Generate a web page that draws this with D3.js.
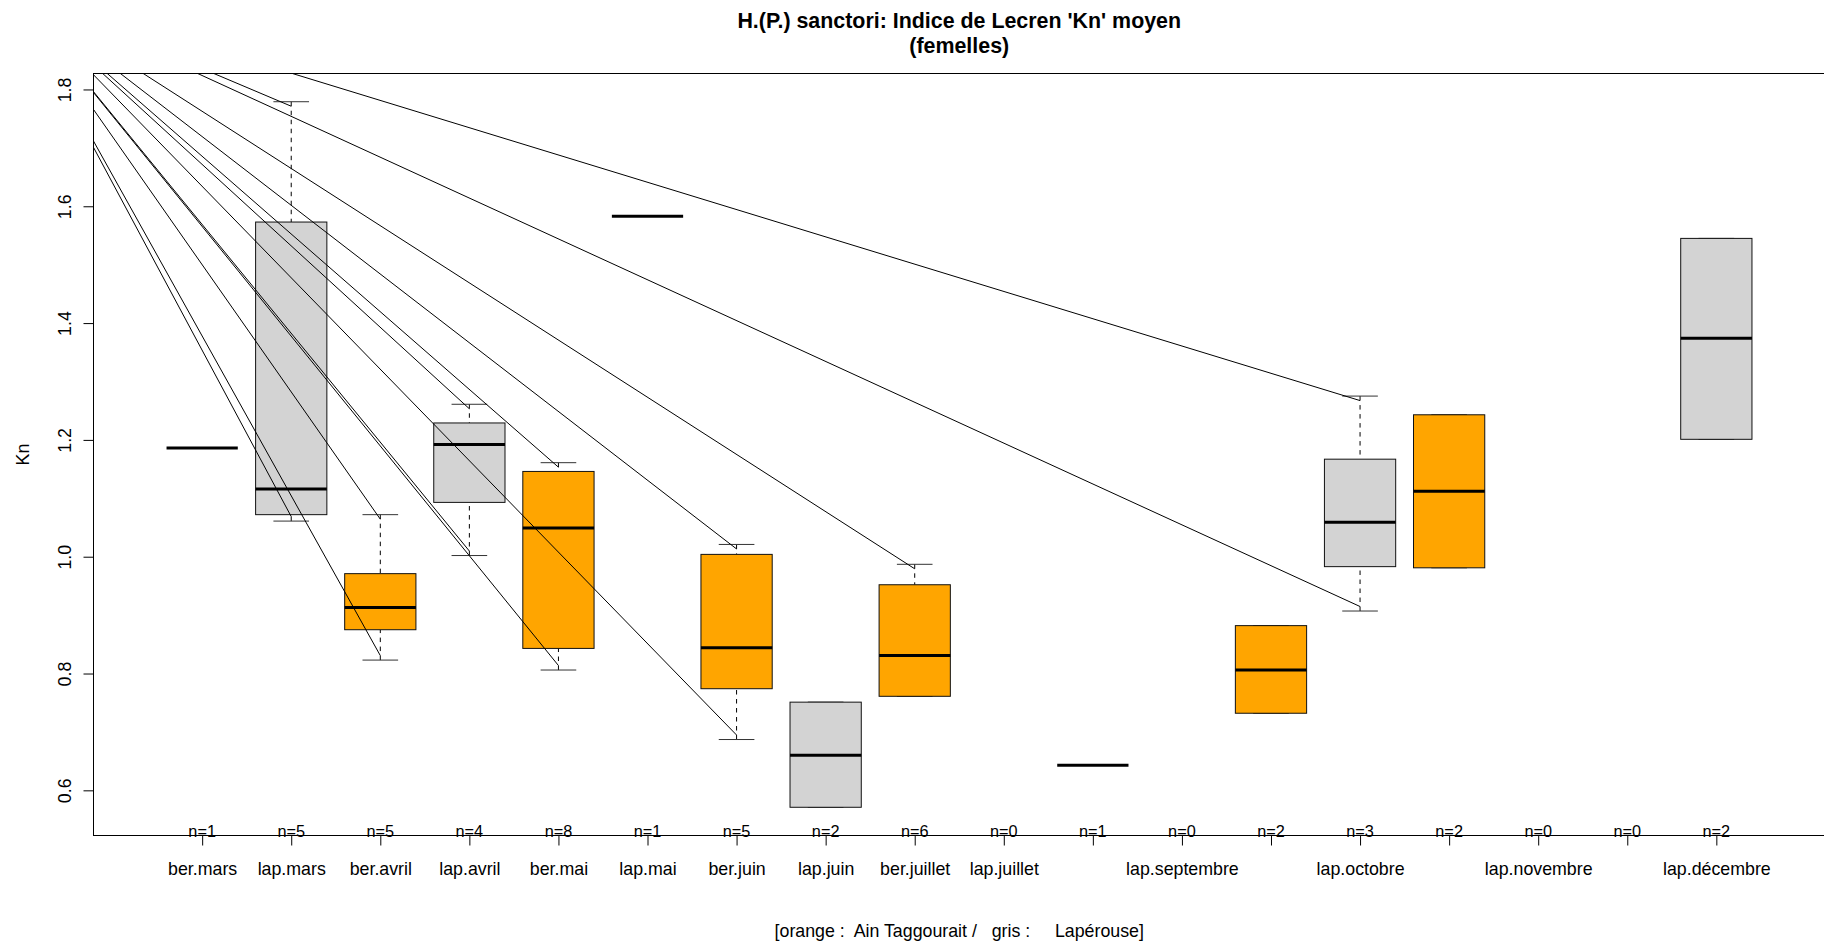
<!DOCTYPE html>
<html><head><meta charset="utf-8">
<script src="https://cdn.jsdelivr.net/npm/d3@7"></script>
<style>
body{margin:0;background:#fff}
svg{display:block}
text{font-family:"Liberation Sans",Arial,Helvetica,sans-serif;fill:#000}
</style>
</head><body>
<svg id="chart" width="1824" height="947"></svg>
<script>
// ---------------- data ----------------
const categories = ["ber.mars","lap.mars","ber.avril","lap.avril","ber.mai","lap.mai","ber.juin","lap.juin","ber.juillet","lap.juillet","ber.septembre","lap.septembre","ber.octobre","lap.octobre","ber.novembre","lap.novembre","ber.décembre","lap.décembre"];
// labels that R managed to print (overlapping ones are dropped)
const hiddenLabels = ["ber.septembre","ber.octobre","ber.novembre","ber.décembre"];
const counts = [1,5,5,4,8,1,5,2,6,0,1,0,2,3,2,0,0,2];
const lowerWhisker = [1.186,1.061,0.823,1.002,0.806,1.583,0.687,0.571,0.761,null,0.643,null,0.732,0.907,0.981,null,null,1.201];
const lowerHinge   = [1.186,1.072,0.875,1.093,0.843,1.583,0.774,0.571,0.761,null,0.643,null,0.732,0.983,0.981,null,null,1.201];
const medians      = [1.186,1.116,0.913,1.192,1.049,1.583,0.844,0.660,0.831,null,0.643,null,0.806,1.059,1.112,null,null,1.374];
const upperHinge   = [1.186,1.573,0.971,1.229,1.146,1.583,1.004,0.751,0.952,null,0.643,null,0.882,1.167,1.243,null,null,1.545];
const upperWhisker = [1.186,1.779,1.072,1.261,1.161,1.583,1.021,0.751,0.987,null,0.643,null,0.882,1.275,1.243,null,null,1.545];
const siteColors = {ber:"#FFA500", lap:"#D3D3D3"};
const yTicks = [0.6,0.8,1.0,1.2,1.4,1.6,1.8];
// stray-line origin (device artefact), in data units
const strayOrigin = {index:-1.19, kn:1.977};
const titleLines = ["H.(P.) sanctori: Indice de Lecren 'Kn' moyen","(femelles)"];
const yLabel = "Kn";
const xLabel = "[orange :  Ain Taggourait /   gris :     Lapérouse]";

// ---------------- layout ----------------
const L = 93.5, R = 1825, T = 73.5, B = 835.5;
const svg = d3.select("#chart");
const positions = categories.map((d,i)=>i+1);
const nBox = categories.length;
const xPad = 0.04*(nBox);
const x = d3.scaleLinear().domain([0.5 - xPad, nBox + 0.5 + xPad]).range([L, R]);
const allVals = [...lowerWhisker, ...upperWhisker].filter(v=>v!=null);
const yMin = d3.min(allVals), yMax = d3.max(allVals), yr = yMax - yMin;
const y = d3.scaleLinear().domain([yMin-0.04*yr, yMax+0.04*yr]).range([B, T]);
const unit = x(1)-x(0);
const halfBox = 0.4*unit, halfCap = 0.2*unit;
const DASH = 4.5;

const boxes = categories.map((c,i)=>({
  name:c, pos:i+1, n:counts[i],
  lw:lowerWhisker[i], q1:lowerHinge[i], med:medians[i], q3:upperHinge[i], uw:upperWhisker[i],
  color: siteColors[c.split(".")[0]]
})).filter(d=>d.med!=null);

// clip
svg.append("defs").append("clipPath").attr("id","plotclip")
  .append("rect").attr("x",L).attr("y",T).attr("width",R-L).attr("height",B-T);

const g = svg.append("g");

// boxes
boxes.forEach(d=>{
  const cx = x(d.pos);
  const bg = g.append("g");
  if (d.n > 1) {
    if (d.uw > d.q3) bg.append("line").attr("x1",cx).attr("x2",cx).attr("y1",y(d.uw)).attr("y2",y(d.q3))
      .attr("stroke","#000").attr("stroke-width",1).attr("stroke-dasharray",DASH+","+DASH);
    if (d.lw < d.q1) bg.append("line").attr("x1",cx).attr("x2",cx).attr("y1",y(d.lw)).attr("y2",y(d.q1))
      .attr("stroke","#000").attr("stroke-width",1).attr("stroke-dasharray",DASH+","+DASH);
    [d.uw,d.lw].forEach(v=>{
      bg.append("line").attr("x1",cx-halfCap).attr("x2",cx+halfCap).attr("y1",y(v)).attr("y2",y(v))
        .attr("stroke","#333").attr("stroke-width",1);
    });
    bg.append("rect").attr("x",cx-halfBox).attr("width",2*halfBox)
      .attr("y",y(d.q3)).attr("height",y(d.q1)-y(d.q3))
      .attr("fill",d.color).attr("stroke","#111").attr("stroke-width",1);
  }
  bg.append("line").attr("x1",cx-halfBox).attr("x2",cx+halfBox).attr("y1",y(d.med)).attr("y2",y(d.med))
    .attr("stroke","#000").attr("stroke-width",3);
});

// stray lines from the artefact origin to the first dash of every drawn whisker
const ox = x(strayOrigin.index), oy = y(strayOrigin.kn);
const stray = [];
boxes.forEach(d=>{
  if (d.n > 1 && d.uw > d.q3) stray.push({x:x(d.pos), y:y(d.uw)+DASH});
  if (d.n > 1 && d.lw < d.q1) stray.push({x:x(d.pos), y:y(d.lw)-DASH});
});
g.append("g").attr("clip-path","url(#plotclip)").selectAll("line").data(stray).join("line")
  .attr("x1",ox).attr("y1",oy).attr("x2",d=>d.x).attr("y2",d=>d.y)
  .attr("stroke","#000").attr("stroke-width",1);

// frame
svg.append("rect").attr("x",L).attr("y",T).attr("width",R-L).attr("height",B-T)
  .attr("fill","none").attr("stroke","#000").attr("stroke-width",1);

// y axis
const ya = svg.append("g").attr("transform",`translate(${L},0)`)
  .call(d3.axisLeft(y).tickValues(yTicks).tickSize(10).tickFormat(d3.format(".1f")));
ya.select(".domain").remove();
ya.selectAll(".tick line").attr("stroke","#000");
ya.selectAll(".tick text")
  .attr("x",null).attr("dy",null)
  .attr("transform","translate(-23,0) rotate(-90)")
  .attr("text-anchor","middle")
  .style("font-size","17.8px").style("font-family",'"Liberation Sans",Arial,sans-serif');

// x axis
const xa = svg.append("g").attr("transform",`translate(0,${B})`)
  .call(d3.axisBottom(x).tickValues(positions).tickSize(10)
    .tickFormat(i=>{const c=categories[i-1]; return hiddenLabels.includes(c)?"":c;}));
xa.select(".domain").remove();
xa.selectAll(".tick line").attr("stroke","#000");
xa.selectAll(".tick text").attr("y",39.5).attr("dy",null)
  .style("font-size","17.8px").style("font-family",'"Liberation Sans",Arial,sans-serif');

// n= labels
svg.append("g").selectAll("text").data(categories).join("text")
  .attr("x",(d,i)=>x(i+1)).attr("y",B+1.2)
  .attr("text-anchor","middle").style("font-size","16.3px")
  .text((d,i)=>"n="+counts[i]);

// y label
svg.append("text").attr("transform",`translate(29,${(T+B)/2}) rotate(-90)`)
  .attr("text-anchor","middle").style("font-size","17.8px").text(yLabel);

// title
const cxPlot = (L+R)/2;
svg.append("text").attr("x",cxPlot).attr("y",27.5).attr("text-anchor","middle")
  .style("font-size","21.4px").style("font-weight","bold").text(titleLines[0]);
svg.append("text").attr("x",cxPlot).attr("y",53).attr("text-anchor","middle")
  .style("font-size","21.4px").style("font-weight","bold").text(titleLines[1]);

// x label
svg.append("text").attr("x",cxPlot).attr("y",937).attr("text-anchor","middle")
  .attr("xml:space","preserve").style("white-space","pre")
  .style("font-size","17.8px").text(xLabel);
</script>
</body></html>
